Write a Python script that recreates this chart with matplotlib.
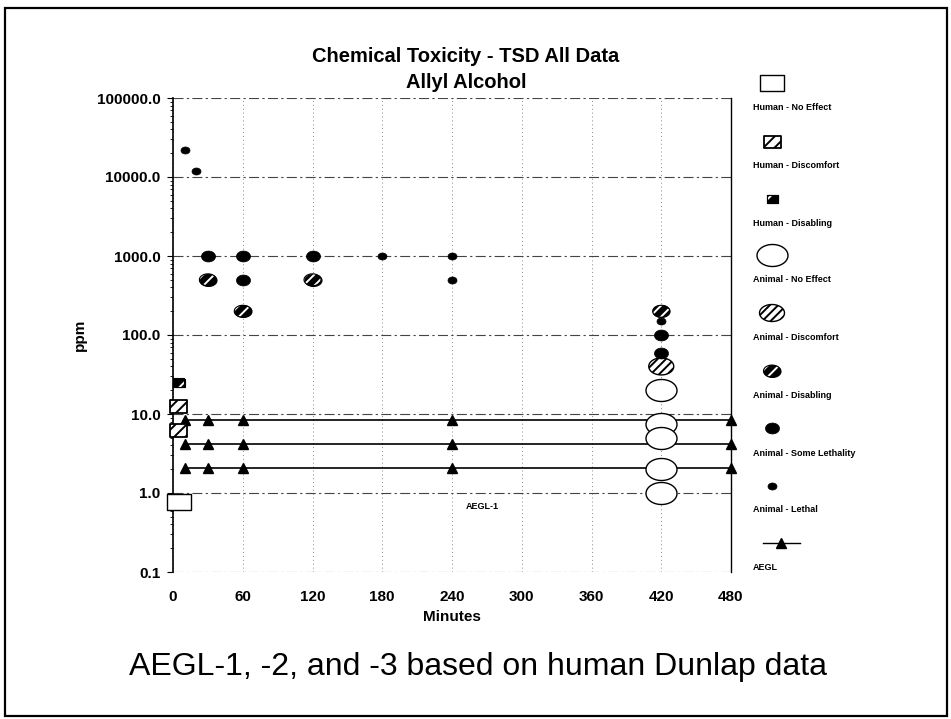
import numpy as np
import matplotlib
matplotlib.use("Agg")
import matplotlib.pyplot as plt
from matplotlib.path import Path
from matplotlib.patches import Rectangle
from matplotlib.ticker import FixedLocator, FuncFormatter, LogLocator, NullFormatter

plt.rcParams['font.family'] = ['Liberation Sans', 'DejaVu Sans']
plt.rcParams['hatch.linewidth'] = 1.4

# ---------------- data ----------------
hum_noeff_t = [5]
hum_noeff_ppm = [0.78]
hum_disc_t = [5, 5]
hum_disc_ppm = [6.25, 12.5]
hum_dis_t = [5]
hum_dis_ppm = [25]
ani_noeff_t = [420, 420, 420, 420, 420]
ani_noeff_ppm = [20, 7.5, 5, 2, 1]
ani_disc_t = [420]
ani_disc_ppm = [40]
ani_dis_t = [30, 60, 120, 420]
ani_dis_ppm = [500, 200, 500, 200]
ani_some_t = [30, 60, 60, 120, 420, 420]
ani_some_ppm = [1000, 1000, 500, 1000, 100, 60]
ani_leth_t = [10, 20, 180, 240, 240, 420]
ani_leth_ppm = [22000, 12000, 1000, 1000, 500, 150]
aegl_t = [10, 30, 60, 240, 480]
aegl1_ppm = [2.1, 2.1, 2.1, 2.1, 2.1]
aegl2_ppm = [4.2, 4.2, 4.2, 4.2, 4.2]
aegl3_ppm = [8.3, 8.3, 8.3, 8.3, 8.3]
x_ticks = [0, 60, 120, 180, 240, 300, 360, 420, 480]
y_ticks = [0.1, 1, 10, 100, 1000, 10000, 100000]
legend_labels = ["Human - No Effect", "Human - Discomfort", "Human - Disabling",
                 "Animal - No Effect", "Animal - Discomfort", "Animal - Disabling",
                 "Animal - Some Lethality", "Animal - Lethal", "AEGL"]

# ---------------- marker styles ----------------
def ellipse(r):
    t = np.linspace(0, 2 * np.pi, 73)
    return Path(np.column_stack([np.cos(t), r * np.sin(t)]), closed=True)

def rect(r):
    v = [(-1, -r), (1, -r), (1, r), (-1, r), (-1, -r)]
    return Path(v, closed=True)

PT = 72 / 100.0
def sz(wpx):
    return (wpx * PT) ** 2

styles = {
    'hne': dict(m=rect(0.70), s=sz(24), fc='white', ec='black', lw=1.0, hatch=None, hw=None),
    'hdc': dict(m=rect(0.76), s=sz(17), fc='white', ec='black', lw=1.3, hatch='///', hw=None),
    'hds': dict(m=rect(0.75), s=sz(11), fc='black', ec='black', lw=0.8, hatch=None, hw='//'),
    'ane': dict(m=ellipse(0.71), s=sz(31), fc='white', ec='black', lw=1.0, hatch=None, hw=None),
    'adc': dict(m=ellipse(0.68), s=sz(25), fc='white', ec='black', lw=1.0, hatch='////', hw=None),
    'ads': dict(m=ellipse(0.70), s=sz(17), fc='black', ec='black', lw=0.8, hatch=None, hw='///'),
    'asl': dict(m=ellipse(0.78), s=sz(14), fc='black', ec='black', lw=0.5, hatch=None, hw=None),
    'ale': dict(m=ellipse(0.78), s=sz(9), fc='black', ec='black', lw=0.5, hatch=None, hw=None),
}

def draw(axx, x, y, st, z):
    axx.scatter(x, y, s=st['s'], marker=st['m'], facecolors=st['fc'], edgecolors=st['ec'],
                linewidths=st['lw'], hatch=st['hatch'], zorder=z, clip_on=False)
    if st['hw']:
        axx.scatter(x, y, s=st['s'], marker=st['m'], facecolors='none', edgecolors='white',
                    linewidths=0, hatch=st['hw'], zorder=z + 0.1, clip_on=False)
        axx.scatter(x, y, s=st['s'], marker=st['m'], facecolors='none', edgecolors='black',
                    linewidths=st['lw'], zorder=z + 0.2, clip_on=False)

# ---------------- figure ----------------
W, H = 951, 719
fig = plt.figure(figsize=(W / 100, H / 100), dpi=100)
fig.patch.set_facecolor('white')

L, R, T, B = 173, 731, 98, 572
ax = fig.add_axes([L / W, 1 - B / H, (R - L) / W, (B - T) / H])
ax.set_yscale('log')
ax.set_xlim(0, 480)
ax.set_ylim(0.1, 100000)

ax.yaxis.set_major_locator(FixedLocator(y_ticks))
ax.yaxis.set_major_formatter(FuncFormatter(lambda v, p: f"{v:.1f}"))
ax.yaxis.set_minor_locator(LogLocator(base=10, subs=np.arange(2, 10)))
ax.yaxis.set_minor_formatter(NullFormatter())
ax.set_xticks(x_ticks)

ax.tick_params(axis='y', which='major', length=4, width=0.8, pad=5, labelsize=11, direction='out')
ax.tick_params(axis='y', which='minor', length=2.5, width=0.6, direction='out')
ax.tick_params(axis='x', which='both', length=0, pad=13, labelsize=11)
for lab in ax.get_xticklabels() + ax.get_yticklabels():
    lab.set_fontweight('bold')

ax.spines['top'].set_visible(False)
ax.spines['bottom'].set_visible(False)
ax.spines['left'].set_linewidth(1.2)
ax.spines['right'].set_linewidth(1.0)

ax.yaxis.grid(True, which='major', linestyle=(0, (9, 3, 2, 3)), color='#444444', linewidth=0.8)
ax.xaxis.grid(True, which='major', linestyle=(0, (1, 3)), color='#8a8a8a', linewidth=0.7)
ax.set_axisbelow(True)

ax.set_xlabel('Minutes', fontsize=11, fontweight='bold', va='center')
ax.xaxis.set_label_coords(0.5, (B - 617) / (B - T))
ax.set_ylabel('ppm', fontsize=11, fontweight='bold', va='center')
ax.yaxis.set_label_coords((80 - L) / (R - L), 0.5)

# AEGL lines
for yv in (aegl1_ppm, aegl2_ppm, aegl3_ppm):
    ax.plot(aegl_t, yv, color='black', linewidth=1.2, marker='^', markersize=6.5,
            markerfacecolor='black', markeredgecolor='black', zorder=3, clip_on=False)

# data markers
draw(ax, ani_noeff_t, ani_noeff_ppm, styles['ane'], 4)
draw(ax, ani_disc_t, ani_disc_ppm, styles['adc'], 5)
draw(ax, ani_some_t, ani_some_ppm, styles['asl'], 6)
draw(ax, ani_leth_t, ani_leth_ppm, styles['ale'], 7)
draw(ax, ani_dis_t, ani_dis_ppm, styles['ads'], 8)
draw(ax, hum_noeff_t, hum_noeff_ppm, styles['hne'], 9)
draw(ax, hum_disc_t, hum_disc_ppm, styles['hdc'], 10)
draw(ax, hum_dis_t, hum_dis_ppm, styles['hds'], 11)

ax.text(266.5, 0.68, 'AEGL-1', fontsize=6.5, fontweight='bold', ha='center', va='center')

# ---------------- overlay: titles, legend, frame ----------------
lax = fig.add_axes([0, 0, 1, 1])
lax.set_xlim(0, W)
lax.set_ylim(H, 0)
lax.axis('off')
lax.patch.set_visible(False)

lax.add_patch(Rectangle((5, 8), 942, 708, fill=False, edgecolor='black', linewidth=1.6))

lax.text(466, 56, 'Chemical Toxicity - TSD All Data', fontsize=14.5, fontweight='bold',
         ha='center', va='center')
lax.text(466, 82, 'Allyl Alcohol', fontsize=14.5, fontweight='bold', ha='center', va='center')
lax.text(478, 667, 'AEGL-1, -2, and -3 based on human Dunlap data', fontsize=23,
         ha='center', va='center')

leg_keys = ['hne', 'hdc', 'hds', 'ane', 'adc', 'ads', 'asl', 'ale']
mk_y = [83, 142, 199, 255, 313, 371, 428, 486, 543]
lb_y = [108, 166, 223, 280, 337, 395, 453, 509, 567]
for i, k in enumerate(leg_keys):
    draw(lax, [772], [mk_y[i]], styles[k], 5)
lax.plot([763, 800], [mk_y[8], mk_y[8]], color='black', linewidth=1.0)
lax.plot([781], [mk_y[8]], marker='^', markersize=6.5, color='black')
for i, lab in enumerate(legend_labels):
    lax.text(753, lb_y[i], lab, fontsize=6.5, fontweight='bold', ha='left', va='center')

fig.savefig('out.png', dpi=100)
